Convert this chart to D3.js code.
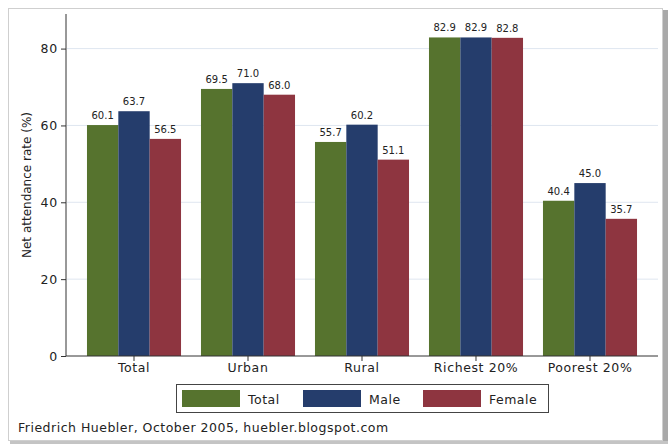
<!DOCTYPE html>
<html lang="en">
<head>
<meta charset="UTF-8">
<script src="https://d3js.org/d3.v7.min.js"></script>
<title>Net attendance rate</title>
<style>
  body { margin: 0; background: #fff; }
  svg text { font-family: "DejaVu Sans", Verdana, sans-serif; fill: #222; }
</style>
</head>
<body>
<div id="chart"></div>
<script>
  var categories = ["Total", "Urban", "Rural", "Richest 20%", "Poorest 20%"];
  var seriesNames = ["Total", "Male", "Female"];
  var totalVals  = [60.1, 69.5, 55.7, 82.9, 40.4];
  var maleVals   = [63.7, 71.0, 60.2, 82.9, 45.0];
  var femaleVals = [56.5, 68.0, 51.1, 82.8, 35.7];
  var yTicks = [0, 20, 40, 60, 80];
  var colors = ["#56732e", "#253d6c", "#8e3540"];

  var series = [totalVals, maleVals, femaleVals];
  var W = 668, H = 444;
  var font = "DejaVu Sans, Verdana, sans-serif";

  var svg = d3.select("#chart").append("svg")
      .attr("width", W).attr("height", H);

  // outer frame with a faint shadow on the right/bottom
  svg.append("rect").attr("x", 663).attr("y", 10).attr("width", 5).attr("height", 434).attr("fill", "#a9a9a9");
  svg.append("rect").attr("x", 10).attr("y", 441).attr("width", 658).attr("height", 3).attr("fill", "#c4c4c4");
  svg.append("rect").attr("x", 8.5).attr("y", 8.5).attr("width", 654).attr("height", 432)
      .attr("fill", "#fff").attr("stroke", "#cfcfcf");

  var pLeft = 66, pRight = 658, pTop = 14, pBottom = 356;

  var y = d3.scaleLinear().domain([0, 89]).range([pBottom, pTop]);
  var x = d3.scaleBand().domain(categories).range([pLeft, pRight])
      .paddingInner(0.175).paddingOuter(0.184);
  var xs = d3.scaleBand().domain(seriesNames).range([0, x.bandwidth()]);

  // gridlines
  svg.append("g").selectAll("line").data(yTicks.filter(d => d > 0)).join("line")
      .attr("x1", pLeft + 1).attr("x2", pRight)
      .attr("y1", d => y(d)).attr("y2", d => y(d))
      .attr("stroke", "#dfe6f0").attr("stroke-width", 1);

  // bars
  var groups = svg.append("g").selectAll("g").data(categories).join("g")
      .attr("transform", d => "translate(" + x(d) + ",0)");

  groups.each(function(cat, i) {
    var g = d3.select(this);
    seriesNames.forEach(function(s, j) {
      var v = series[j][i];
      g.append("rect")
        .attr("x", xs(s)).attr("width", xs.bandwidth())
        .attr("y", y(v)).attr("height", y(0) - y(v))
        .attr("fill", colors[j]);
      g.append("text")
        .attr("x", xs(s) + xs.bandwidth() / 2).attr("y", y(v) - 6)
        .attr("text-anchor", "middle").attr("font-size", 10)
        .text(v.toFixed(1));
    });
  });

  // axes
  var yAxis = d3.axisLeft(y).tickValues(yTicks).tickSize(5).tickPadding(3);
  var ya = svg.append("g").attr("transform", "translate(" + pLeft + ",0)").call(yAxis);
  ya.select(".domain").attr("d", "M0," + pTop + "V" + pBottom).attr("stroke", "#333");
  ya.selectAll(".tick line").attr("stroke", "#333");
  ya.selectAll(".tick text").attr("font-size", 12.5).attr("letter-spacing", 0.8)
      .style("font-family", font).attr("fill", "#222");

  var xAxis = d3.axisBottom(x).tickSize(5).tickPadding(2);
  var xa = svg.append("g").attr("transform", "translate(0," + pBottom + ")").call(xAxis);
  xa.select(".domain").attr("d", "M" + pLeft + ",0H" + pRight).attr("stroke", "#333");
  xa.selectAll(".tick line").attr("stroke", "#333");
  xa.selectAll(".tick text").attr("font-size", 12.5).attr("letter-spacing", 0.6)
      .style("font-family", font).attr("fill", "#222");

  // y title
  svg.append("text")
      .attr("transform", "translate(31,185) rotate(-90)")
      .attr("text-anchor", "middle").attr("font-size", 12)
      .text("Net attendance rate (%)");

  // legend
  var lg = svg.append("g");
  lg.append("rect").attr("x", 176.5).attr("y", 384.5).attr("width", 372).attr("height", 28)
      .attr("fill", "#fff").attr("stroke", "#444");
  var legX = [182, 303, 423];
  seriesNames.forEach(function(s, j) {
    lg.append("rect").attr("x", legX[j]).attr("y", 390).attr("width", 58).attr("height", 17)
      .attr("fill", colors[j]);
    lg.append("text").attr("x", legX[j] + 66).attr("y", 403.5).attr("font-size", 12.5)
      .attr("letter-spacing", 0.5).text(s);
  });

  svg.append("text").attr("x", 18).attr("y", 432).attr("font-size", 12.5)
      .attr("letter-spacing", 0.5)
      .text("Friedrich Huebler, October 2005, huebler.blogspot.com");
</script>
</body>
</html>
